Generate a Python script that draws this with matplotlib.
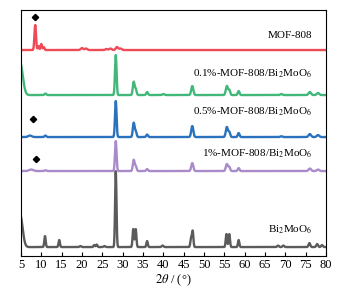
import numpy as np
import matplotlib
matplotlib.use("Agg")
import matplotlib.pyplot as plt

plt.rcParams['font.family'] = ['Liberation Serif', 'DejaVu Serif']
plt.rcParams['mathtext.fontset'] = 'stix'

two_theta = np.linspace(5, 80, 1801)

# sample names, vertical offsets, colours
names = ["Bi$_2$MoO$_6$", "1%-MOF-808/Bi$_2$MoO$_6$", "0.5%-MOF-808/Bi$_2$MoO$_6$",
         "0.1%-MOF-808/Bi$_2$MoO$_6$", "MOF-808"]
offsets = [9, 85, 119, 161, 206]
colors = ["#5B5B5B", "#A98BC9", "#2B72BE", "#42B77A", "#EE4B57"]
label_y = [26, 102, 144, 182, 221]

# peak lists: (2theta, height, FWHM)
peaks_bmo = [(4.8, 32, 1.4), (10.9, 11, 0.4), (14.4, 7, 0.4), (19.6, 1, 0.5), (23.0, 2, 0.4),
             (23.6, 2.5, 0.4), (25.5, 1, 0.5), (28.3, 76, 0.4), (32.6, 18, 0.4), (33.2, 18, 0.4),
             (36.0, 6, 0.4), (39.8, 1.5, 0.5), (46.8, 9, 0.4), (47.2, 16, 0.4), (55.5, 13, 0.4),
             (56.2, 13, 0.4), (58.5, 7, 0.4), (68.2, 1.5, 0.5), (69.5, 1.5, 0.5), (75.9, 4, 0.5),
             (77.8, 3, 0.5), (79.0, 2, 0.5)]
peaks_1 = [(7.5, 1.5, 1.2), (11.0, 0.8, 0.5), (28.3, 30, 0.45), (32.7, 11, 0.5), (33.2, 5, 0.5),
           (36.0, 2, 0.5), (47.1, 8, 0.6), (55.6, 7, 0.6), (56.2, 4, 0.5), (58.5, 3, 0.5),
           (76.0, 2.5, 0.7), (78.0, 1.5, 0.7)]
peaks_05 = [(7.2, 1.5, 1.0), (11.0, 1.5, 0.5), (28.3, 36, 0.45), (32.7, 14, 0.5), (33.2, 6, 0.5),
            (36.0, 2.5, 0.5), (47.1, 11, 0.6), (55.6, 10, 0.6), (56.2, 5, 0.5), (58.5, 4, 0.5),
            (69.0, 0.8, 0.6), (76.0, 3, 0.7), (78.0, 2, 0.7)]
peaks_01 = [(4.8, 32, 1.5), (11.0, 1.5, 0.5), (28.3, 40, 0.45), (32.7, 13, 0.5), (33.2, 6, 0.5),
            (36.0, 3, 0.5), (40.0, 1, 0.6), (47.1, 9, 0.6), (55.6, 9, 0.6), (56.2, 5, 0.5),
            (58.5, 4, 0.5), (69.0, 1, 0.6), (76.0, 3, 0.7), (78.0, 2, 0.7)]
peaks_mof = [(8.5, 25, 0.45), (9.3, 4, 0.4), (10.0, 6, 0.4), (10.6, 3, 0.4), (20.0, 2, 0.7),
             (21.0, 1.5, 0.7), (26.0, 1, 0.7), (27.0, 1.5, 0.7), (28.6, 3, 0.7), (29.5, 1.5, 0.7)]
peak_sets = [peaks_bmo, peaks_1, peaks_05, peaks_01, peaks_mof]

# diamond markers (MOF-808 reflections)
diamond_x = [8.0, 8.6, 8.5]
diamond_y = [137, 97, 239]

def pattern(peaks):
    y = np.zeros_like(two_theta)
    for c, h, w in peaks:
        s = w / 2.3548
        y += h * np.exp(-0.5 * ((two_theta - c) / s) ** 2)
    return y

fig = plt.figure(figsize=(3.44, 2.95), dpi=100)
ax = fig.add_axes([0.061, 0.132, 0.887, 0.834])

for name, off, col, ly, pk in zip(names, offsets, colors, label_y, peak_sets):
    ax.plot(two_theta, pattern(pk) + off, color=col, lw=1.7)
    ax.text(76.6, ly, name, ha='right', va='center', fontsize=8)

ax.plot(diamond_x, diamond_y, ls='none', marker='D', ms=3.2, color='black')

ax.set_xlim(5, 80)
ax.set_ylim(0, 246)
ax.set_xticks(np.arange(5, 81, 5))
ax.set_yticks([])
ax.tick_params(axis='x', direction='in', length=3, labelsize=9, pad=2)
ax.set_xlabel(r"$2\theta$ / (°)", fontsize=9, labelpad=1)
for sp in ax.spines.values():
    sp.set_linewidth(0.8)

fig.savefig("out.png", dpi=100)
